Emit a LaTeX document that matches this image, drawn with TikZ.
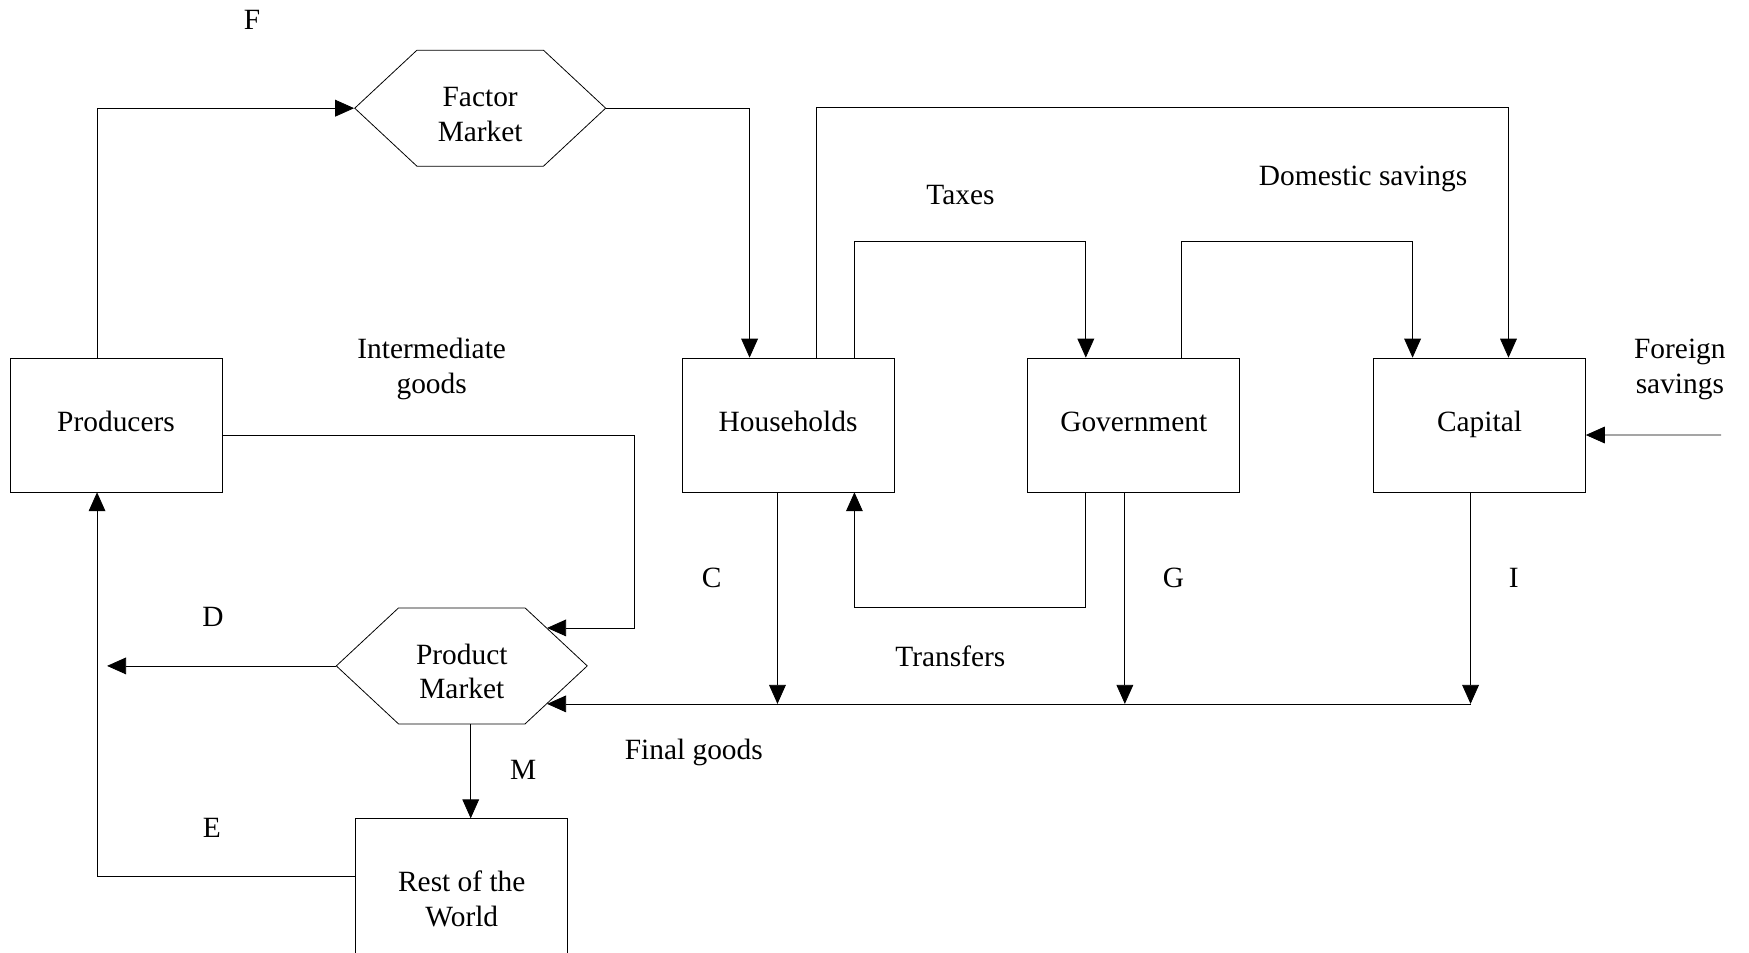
\documentclass[tikz,border=0pt]{standalone}
\usepackage{fontspec}
\setmainfont{Liberation Serif}
\usetikzlibrary{arrows.meta,shapes.symbols}
\tikzset{->,>={Triangle[length=0.34cm,width=0.3cm]},line width=0.9pt,node distance=6.2cm,
  every node/.style={font=\fontsize{15}{17.6}\selectfont,align=center},
  block/.style={draw,rectangle,minimum width=3.8cm,minimum height=2.4cm,inner sep=0pt},
  sector/.style={block,text depth=.12cm},
  market/.style={draw,signal,signal to=east and west,signal pointer angle=86,
    minimum width=4.5cm,minimum height=2.08cm,inner sep=0pt,text height=1.19cm}}
\begin{document}
\begin{tikzpicture}[x=0.02cm,y=-0.02cm]
    \useasboundingbox (0,0) rectangle (1568,854);
    \node[sector] (prod) at (104,381) {Producers};
    \node[sector] (hh) at (706.5,381) {Households};
    \node[sector] (gov) [right of=hh] {Government};
    \node[sector] (cap) [right of=gov] {Capital};
    \node[market] (fm) at (430.5,97) {Factor\\Market};
    \node[market] (pm) at (414,597) {Product\\Market};
    \node[block,minimum height=2.88cm] (row) at (414,806) {Rest of the\\World};

    % factor incomes and the flows out of households
    \draw ([xshift=-.34cm]prod.north) |- (fm.west);
    \draw (fm.east) -| ([xshift=-.69cm]hh.north);
    \draw ([xshift=.51cm]hh.north) -- ++(0,-224) -| ([xshift=.52cm]cap.north);
    \draw ([xshift=1.19cm]hh.north) -- ++(0,-104) -| ([xshift=-.86cm]gov.north);
    \draw ([xshift=.86cm]gov.north) -- ++(0,-104) -| ([xshift=-1.2cm]cap.north);
    \draw ([xshift=-.86cm]gov.south) -- ++(0,103) -| ([xshift=1.19cm]hh.south);

    % final demand
    \path ([xshift=-.19cm]hh.south) coordinate (c0)
          ([xshift=-.16cm]gov.south) coordinate (g0)
          ([xshift=-.16cm]cap.south) coordinate (i0);
    \coordinate (fg) at (i0 |- pm.-24);
    \draw (c0) -- (c0 |- fg);
    \draw (g0) -- (g0 |- fg);
    \draw (i0) -- (fg);
    \draw (fg) -- (pm.-24);

    \coordinate (ig) at (569,0 |- pm.24);
    \draw ([yshift=-.18cm]prod.east) -| (ig) -- (pm.24);
    \coordinate (dout) at (96,0 |- pm.west);
    \draw (pm.west) -- (dout);
    \draw ([xshift=.16cm]pm.south) -- ([xshift=.16cm]row.north);
    \draw ([yshift=.4cm]row.west) -| ([xshift=-.34cm]prod.south);
    \coordinate (fsav) at (1543,390);
    \draw (fsav) -- ([yshift=-.18cm]cap.east);

    % labels
    \node (lf) at (226,18) {F};
    \node (lig) at (387,331) {Intermediate\\goods};
    \node (ltax) at (861,175) {Taxes};
    \node (lds) at (1222,160) {Domestic savings};
    \node (lfs) at (1506,331) {Foreign\\savings};
    \node (lc) at (638,518) {C};
    \node (lg) at (1052,518) {G};
    \node (li) at (1357,518) {I};
    \node (ld) at (191,553) {D};
    \node (ltr) at (852,588) {Transfers};
    \node (lfg) at (622,675) {Final goods};
    \node (lm) at (469,690) {M};
    \node (le) at (190,742) {E};
\end{tikzpicture}
\end{document}
